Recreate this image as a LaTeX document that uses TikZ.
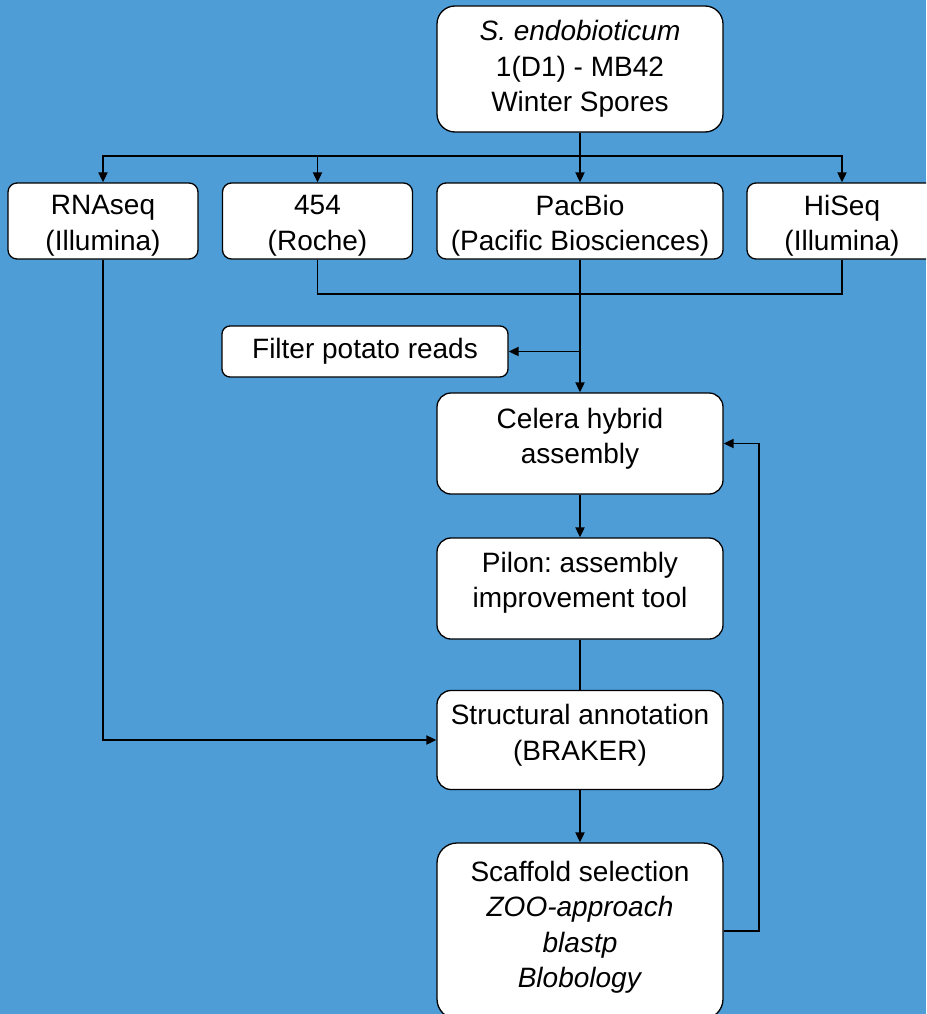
\documentclass[tikz,border=0pt]{standalone}
\usepackage{fontspec}
\setmainfont{Liberation Sans}
\usetikzlibrary{arrows.meta}
\definecolor{bgblue}{RGB}{79,157,214}
\frenchspacing
\begin{document}
\begin{tikzpicture}[x=1pt,y=-1pt,
  box/.style={draw=black, line width=1.3pt, fill=white, rounded corners=12pt, inner sep=0pt},
  smallbox/.style={box, rounded corners=9pt, minimum width=190pt, minimum height=76pt},
  widebox/.style={box, rounded corners=14pt, minimum width=286pt},
  txt/.style={align=center, font=\fontsize{28}{35.5}\selectfont, inner sep=0pt, text=black},
  conn/.style={line width=1.9pt, draw=black},
  arr/.style={conn, -{Triangle[length=10pt,width=9pt]}}]
\fill[bgblue] (0,0) rectangle (926,1014);
\useasboundingbox (0,0) rectangle (926,1014);
\clip (0,0) rectangle (926,1014);

% boxes
\node[widebox, rounded corners=18pt, minimum height=126pt] (src) at (580,69) {};
\node[txt] (srcT) at (580,69) {\textit{S. endobioticum}\\1(D1) - MB42\\Winter Spores};

\node[smallbox] (rna) at (103,221) {};
\node[txt] (rnaT) at (103,226) {RNAseq\\(Illumina)};
\node[smallbox] (r454) at (317.5,221) {};
\node[txt] (r454T) at (317.5,226) {454\\(Roche)};
\node[widebox, rounded corners=9pt, minimum height=76pt] (pacbio) at (580,221) {};
\node[txt] (pacbioT) at (580,226) {PacBio\\(Pacific Biosciences)};
\node[smallbox] (hiseq) at (842,221) {};
\node[txt] (hiseqT) at (842,226) {HiSeq\\(Illumina)};

\node[widebox, rounded corners=8pt, minimum height=51pt] (filter) at (365,351.5) {};
\node[txt] (filterT) at (365,351) {Filter potato reads};

\node[widebox, minimum height=101pt] (celera) at (580,443.5) {};
\node[txt] (celeraT) at (580,439) {Celera hybrid\\assembly};

\node[widebox, minimum height=101pt] (pilon) at (580,588.5) {};
\node[txt] (pilonT) at (580,583) {Pilon: assembly\\improvement tool};

\node[widebox, minimum height=99pt] (struct) at (580,740) {};
\node[txt] (structT) at (580,735) {Structural annotation\\(BRAKER)};

\node[widebox, rounded corners=20pt, minimum height=176pt] (scaf) at (580,931) {};
\node[txt] (scafT) at (580,927) {Scaffold selection\\\textit{ZOO-approach}\\\textit{blastp}\\\textit{Blobology}};

% connectors
\coordinate (split) at (580,156);
\draw[conn] (src.south) -- (split);
\draw[arr] (split) -- (pacbio.north);
\draw[arr] (split) -| (rna.north);
\draw[arr] (split) -| (r454.north);
\draw[arr] (split) -| (hiseq.north);

\coordinate (merge) at (580,294);
\draw[conn] (r454.south) |- (merge);
\draw[conn] (hiseq.south) |- (merge);
\draw[arr] (pacbio.south) -- (celera.north);
\coordinate (fj) at (pacbio.south |- filter.east);
\draw[arr] (fj) -- (filter.east);

\draw[arr] (celera.south) -- (pilon.north);
\draw[conn] (pilon.south) -- (struct.north);
\draw[arr] (struct.south) -- (scaf.north);
\draw[arr] (rna.south) |- (struct.west);
\coordinate (fb) at ([xshift=35pt]scaf.east);
\draw[arr] (scaf.east) -- (fb) |- (celera.east);
\end{tikzpicture}
\end{document}
